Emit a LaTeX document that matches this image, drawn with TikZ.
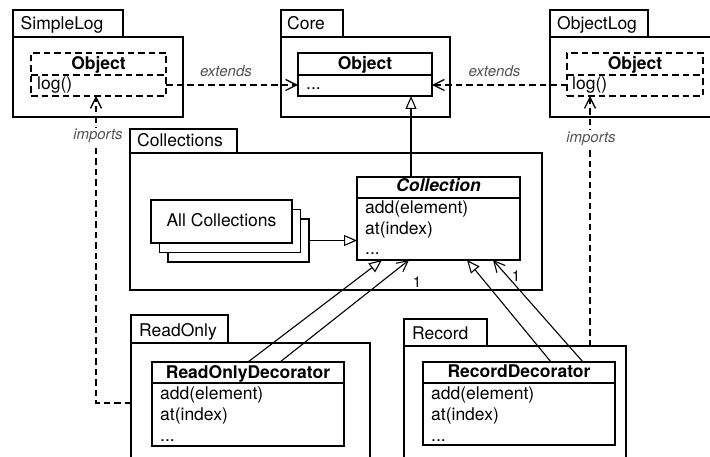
\documentclass[tikz,border=0pt]{standalone}
\usepackage{fontspec}
\setmainfont{TeX Gyre Heros}
\usetikzlibrary{arrows.meta,calc}
\definecolor{lblgray}{rgb}{0.33,0.33,0.33}
\begin{document}
\begin{tikzpicture}[x=1pt,y=-1pt,
  every node/.style={font=\fontsize{17.5}{21}\selectfont},
  box/.style={draw, line width=1.4pt, anchor=north west, inner sep=0pt, outer sep=0pt, fill=white},
  dbox/.style={box, dash pattern=on 6.5pt off 4pt, fill=none},
  ttl/.style={anchor=base west, inner sep=0pt},
  hdr/.style={anchor=base, inner sep=0pt, font=\fontsize{17.5}{21}\selectfont\bfseries},
  itm/.style={anchor=base west, inner sep=0pt},
  lbl/.style={anchor=base, inner sep=1.5pt, font=\fontsize{15}{18}\selectfont\itshape, text=lblgray},
  dep/.style={line width=1.3pt, dash pattern=on 6.5pt off 4pt, -{Straight Barb[length=11pt,width=11pt]}},
  gen/.style={line width=1.1pt, -{Triangle[open,length=13pt,width=11pt,fill=white]}},
  asc/.style={line width=1.1pt, -{Straight Barb[length=11pt,width=11pt]}},
  divl/.style={line width=1.4pt},
]
\useasboundingbox (0,0) rectangle (710,457);
\fill[white] (0,0) rectangle (710,457);
\clip (0,0) rectangle (710,457);

% packages
\node[box, minimum width=110pt, minimum height=27pt] (sltab) at (13,10) {};
\node[box, minimum width=170pt, minimum height=80pt] (slpkg) at (13,37) {};
\node[ttl] at (20.5,29.5) {SimpleLog};

\node[box, minimum width=62pt, minimum height=27pt] (coretab) at (281,10) {};
\node[box, minimum width=169pt, minimum height=80pt] (corepkg) at (281,37) {};
\node[ttl] at (287,29.5) {Core};

\node[box, minimum width=98pt, minimum height=27pt] (oltab) at (550,10) {};
\node[box, minimum width=170pt, minimum height=80pt] (olpkg) at (550,37) {};
\node[ttl] at (557,29.5) {ObjectLog};

\node[box, minimum width=107pt, minimum height=24pt] (colltab) at (130,129) {};
\node[box, minimum width=412pt, minimum height=137pt] (collpkg) at (130,153) {};
\node[ttl] at (137,146.5) {Collections};

\node[box, minimum width=97pt, minimum height=28pt] (rotab) at (131,315) {};
\node[box, minimum width=239pt, minimum height=130pt] (ropkg) at (131,343) {};
\node[ttl] at (139,336) {ReadOnly};

\node[box, minimum width=83pt, minimum height=27pt] (rectab) at (404,319) {};
\node[box, minimum width=222pt, minimum height=130pt] (recpkg) at (404,346) {};
\node[ttl] at (412,339) {Record};

% classes
\node[dbox, minimum width=135pt, minimum height=43pt] (slobj) at (31,53) {};
\draw[divl, dash pattern=on 6.5pt off 4pt] ($(slobj.north west)+(0,22)$) -- ($(slobj.north east)+(0,22)$);
\node[hdr] at (98.5,70) {Object};
\node[itm] at (37,90) {log()};

\node[box, minimum width=134pt, minimum height=43pt] (coreobj) at (298,53) {};
\draw[divl] ($(coreobj.north west)+(0,22)$) -- ($(coreobj.north east)+(0,22)$);
\node[hdr] at (365,70) {Object};
\node[itm] at (306,90) {...};

\node[dbox, minimum width=136pt, minimum height=43pt] (olobj) at (567,53) {};
\draw[divl, dash pattern=on 6.5pt off 4pt] ($(olobj.north west)+(0,22)$) -- ($(olobj.north east)+(0,22)$);
\node[hdr] at (635,70) {Object};
\node[itm] at (572,90) {log()};

\node[box, minimum width=163pt, minimum height=83pt] (coll) at (357,177) {};
\draw[divl] ($(coll.north west)+(0,21)$) -- ($(coll.north east)+(0,21)$);
\node[hdr, font=\fontsize{17.5}{21}\selectfont\bfseries\itshape] at (438.5,192) {Collection};
\node[itm] at (365,214) {add(element)};
\node[itm] at (365,234.5) {at(index)};
\node[itm] at (365,255) {...};

\node[box, minimum width=141pt, minimum height=43pt] (allc3) at (168,219) {};
\node[box, minimum width=141pt, minimum height=43pt] (allc2) at (159.5,209.5) {};
\node[box, minimum width=141pt, minimum height=43pt] (allc) at (151,200) {};
\node[anchor=base, inner sep=0pt] at (221.5,227) {All Collections};

\node[box, minimum width=192pt, minimum height=84pt] (rod) at (152,362) {};
\draw[divl] ($(rod.north west)+(0,21)$) -- ($(rod.north east)+(0,21)$);
\node[hdr] at (248,378) {ReadOnlyDecorator};
\node[itm] at (160,399) {add(element)};
\node[itm] at (160,420) {at(index)};
\node[itm] at (160,441) {...};

\node[box, minimum width=192pt, minimum height=83pt] (recd) at (423,362) {};
\draw[divl] ($(recd.north west)+(0,21)$) -- ($(recd.north east)+(0,21)$);
\node[hdr] at (519,377.5) {RecordDecorator};
\node[itm] at (431,399) {add(element)};
\node[itm] at (431,420) {at(index)};
\node[itm] at (431,441) {...};

% connector end points
\coordinate (e1) at ($(slobj.south east)+(0,-11)$);
\coordinate (e2) at ($(coreobj.south west)+(0,-11)$);
\coordinate (e3) at ($(olobj.south west)+(0,-11)$);
\coordinate (e4) at ($(coreobj.south east)+(0,-11)$);
\coordinate (g1) at ($(coll.north west)+(54,0)$);
\coordinate (i1) at ($(ropkg.north west)+(0,60)$);
\coordinate (i1t) at ($(slobj.south west)+(65,0)$);
\coordinate (i2) at ($(recpkg.north west)+(186,0)$);
\coordinate (rg1) at ($(rod.north west)+(96,0)$);
\coordinate (rg2) at ($(coll.south west)+(25,0)$);
\coordinate (ra1) at ($(rod.north west)+(128,0)$);
\coordinate (ra2) at ($(coll.south west)+(52,0)$);
\coordinate (cg1) at ($(recd.north west)+(128,0)$);
\coordinate (cg2) at ($(coll.south west)+(110,0)$);
\coordinate (ca1) at ($(recd.north west)+(160,0)$);
\coordinate (ca2) at ($(coll.south west)+(136,0)$);

% connectors
\draw[dep] (e1) -- (e2);
\draw[dep] (e3) -- (e4);
\draw[gen] (g1) -- (g1 |- coreobj.south);
\draw[dep] (i1) -| (i1t);
\draw[dep] (i2) -- (i2 |- olobj.south);
\draw[gen] (allc3.east) -- (allc3.east -| coll.west);
\draw[gen] (rg1) -- (rg2);
\draw[asc] (ra1) -- (ra2);
\draw[gen] (cg1) -- (cg2);
\draw[asc] (ca1) -- (ca2);

% labels
\node[lbl] at (226,77) {extends};
\node[lbl] at (494.5,77) {extends};
\node[lbl, fill=white] at (98,140) {imports};
\node[lbl, fill=white] at (591,142.5) {imports};
\node[inner sep=0pt, font=\fontsize{15}{18}\selectfont] at (417,282.5) {1};
\node[inner sep=0pt, font=\fontsize{15}{18}\selectfont] at (516,276) {1};
\end{tikzpicture}
\end{document}
